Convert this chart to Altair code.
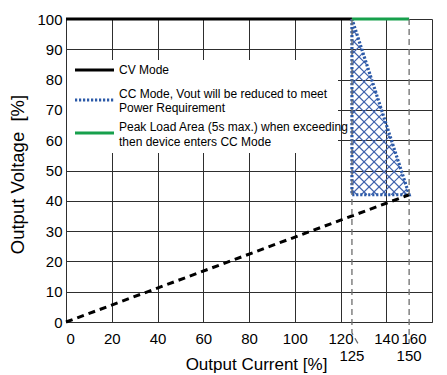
import altair as alt
import pandas as pd

# ---------------- data ----------------
x_ticks = [0, 20, 40, 60, 80, 100, 120, 140, 160]
y_ticks = [0, 10, 20, 30, 40, 50, 60, 70, 80, 90, 100]

modes = ["CV Mode", "CC Mode", "Peak Load"]
legend_lines = [
    ["CV Mode"],
    ["CC Mode, Vout will be reduced to meet", " Power Requirement"],
    ["Peak Load Area (5s max.) when exceeding", "then device enters CC Mode"],
]
mode_colors = ["#000000", "#2c5aa8", "#17a04c"]
mode_dashes = [[1, 0], [2.2, 1.8], [1, 0]]

cv_current = [0, 125]
cv_voltage = [100, 100]
cc_current = [125, 125, 150, 125]
cc_voltage = [100, 42, 42, 100]
peak_current = [125, 150]
peak_voltage = [100, 100]

load_current = [0, 150]
load_voltage = [0, 42]

marker_125_current = [125, 125, 128]
marker_125_voltage = [100, -3.6, -7.6]
marker_150_current = [150, 150]
marker_150_voltage = [100, -7]
marker_labels = ["125", "150"]
marker_label_current = [125, 150]

# ---------------- layout (pixels, relative to plot area) ----------------
W, H = 366, 303
X_MAX, Y_MAX = 160.0, 100.0
legend_box = (1, 41, 272, 134)
legend_symbol_x = (9, 48)
legend_symbol_y = [51, 81, 114]
legend_text_x = 53
legend_text_y = [[51], [75, 88.5], [108, 123]]


def to_px(x, y):
    return x / X_MAX * W, (Y_MAX - y) / Y_MAX * H


def to_data(px, py):
    return px / W * X_MAX, Y_MAX - py / H * Y_MAX


# cross-hatch of the CC triangle, derived from its vertices
tri = [to_px(x, y) for x, y in zip(cc_current[:3], cc_voltage[:3])]
hatch_rows = []
step = 10.0
for s in (1, -1):
    vals = [p[0] + s * p[1] for p in tri]
    c = min(vals) + step / 2
    while c < max(vals):
        pts = []
        for i in range(3):
            P, Q = tri[i], tri[(i + 1) % 3]
            fP = P[0] + s * P[1] - c
            fQ = Q[0] + s * Q[1] - c
            if (fP <= 0 <= fQ or fQ <= 0 <= fP) and fP != fQ:
                t = fP / (fP - fQ)
                pts.append((P[0] + t * (Q[0] - P[0]), P[1] + t * (Q[1] - P[1])))
        if len(pts) >= 2:
            pts.sort()
            a, b = pts[0], pts[-1]
            ax, ay = to_data(*a)
            bx, by = to_data(*b)
            hatch_rows.append({"x": ax, "y": ay, "x2": bx, "y2": by})
        c += step
hatch_df = pd.DataFrame(hatch_rows)

rows = []
for m, xs, ys in [(modes[0], cv_current, cv_voltage),
                  (modes[1], cc_current, cc_voltage),
                  (modes[2], peak_current, peak_voltage)]:
    for i, (x, y) in enumerate(zip(xs, ys)):
        rows.append({"current": x, "voltage": y, "mode": m, "ord": i})
mode_df = pd.DataFrame(rows)

load_df = pd.DataFrame({"current": load_current, "voltage": load_voltage})
marker_df = pd.DataFrame(
    [{"current": x, "voltage": y, "m": "125", "ord": i}
     for i, (x, y) in enumerate(zip(marker_125_current, marker_125_voltage))]
    + [{"current": x, "voltage": y, "m": "150", "ord": i}
       for i, (x, y) in enumerate(zip(marker_150_current, marker_150_voltage))]
)
label_df = pd.DataFrame({"current": marker_label_current, "label": marker_labels,
                         "dx": [8, 2]})

leg_sym_df = pd.DataFrame({
    "mode": modes,
    "x": [legend_symbol_x[0]] * 3, "x2": [legend_symbol_x[1]] * 3,
    "y": legend_symbol_y,
})
leg_txt_df = pd.DataFrame([
    {"text": t, "x": legend_text_x, "y": y}
    for lines, ys in zip(legend_lines, legend_text_y)
    for t, y in zip(lines, ys)
])

FONT = "Liberation Sans"
GRID = "#2e2e2e"

xscale = alt.Scale(domain=[0, 160], nice=False)
yscale = alt.Scale(domain=[0, 100], nice=False)

x_axis = alt.Axis(values=x_ticks, grid=True, gridColor=GRID, gridOpacity=1,
                  domainColor=GRID, ticks=False, labelFontSize=15,
                  labelPadding=9, labelColor="#000", labelFont=FONT,
                  labelOffset=alt.condition("datum.value == 160",
                                            alt.value(-6), alt.value(0)),
                  title="Output Current [%]", titleFontSize=17,
                  titleFontWeight="normal", titleFont=FONT, titleColor="#000",
                  titlePadding=10, titleX=190)
y_axis = alt.Axis(values=y_ticks, grid=True, gridColor=GRID, gridOpacity=1,
                  domainColor=GRID, ticks=False, labelFontSize=15,
                  labelPadding=4, labelColor="#000", labelFont=FONT,
                  title="Output Voltage\u00a0\u00a0[%]", titleFontSize=18.5,
                  titleFontWeight="normal", titleFont=FONT, titleColor="#000",
                  titlePadding=9, titleY=155)


def X(field):
    return alt.X(field, scale=xscale, axis=x_axis)


def Y(field):
    return alt.Y(field, scale=yscale, axis=y_axis)


hatch = alt.Chart(hatch_df).mark_rule(color="#3f62ad", strokeWidth=1.1).encode(
    x=X("x:Q"), y=Y("y:Q"), x2="x2:Q", y2="y2:Q",
)

lines = alt.Chart(mode_df).mark_line(strokeWidth=3.2, strokeCap="butt").encode(
    x=X("current:Q"), y=Y("voltage:Q"),
    color=alt.Color("mode:N", scale=alt.Scale(domain=modes, range=mode_colors),
                    legend=None),
    strokeDash=alt.StrokeDash("mode:N",
                              scale=alt.Scale(domain=modes, range=mode_dashes),
                              legend=None),
    detail="mode:N",
    order="ord:Q",
)

load = alt.Chart(load_df).mark_line(color="#000", strokeWidth=3,
                                    strokeDash=[7, 5]).encode(
    x=X("current:Q"), y=Y("voltage:Q"),
)

markers = alt.Chart(marker_df).mark_line(color="#6e6e6e", strokeWidth=1.3,
                                         strokeDash=[6, 4]).encode(
    x=X("current:Q"), y=Y("voltage:Q"),
    detail="m:N", order="ord:Q",
)

labels = alt.Chart(label_df).mark_text(fontSize=15, font=FONT, color="#000",
                                       baseline="middle", dy=34).encode(
    x=X("current:Q"),
    y=alt.value(H),
    text="label:N",
    xOffset="dx:Q",
)

# manual legend
leg_box = alt.Chart(leg_sym_df).mark_rect(color="white").encode(
    x=alt.value(legend_box[0]), x2=alt.value(legend_box[2]),
    y=alt.value(legend_box[1]), y2=alt.value(legend_box[3]),
)
leg_sym = alt.Chart(leg_sym_df).mark_rule(strokeWidth=3.2, strokeCap="butt").encode(
    x=alt.X("x:Q", scale=None), x2="x2:Q",
    y=alt.Y("y:Q", scale=None),
    color=alt.Color("mode:N", scale=alt.Scale(domain=modes, range=mode_colors),
                    legend=None),
    strokeDash=alt.StrokeDash("mode:N",
                              scale=alt.Scale(domain=modes, range=mode_dashes),
                              legend=None),
)
leg_txt = alt.Chart(leg_txt_df).mark_text(
    fontSize=12, font=FONT, color="#000", align="left", baseline="middle"
).encode(
    x=alt.X("x:Q", scale=None),
    y=alt.Y("y:Q", scale=None),
    text="text:N",
)

chart = alt.layer(hatch, lines, load, markers, labels,
                  leg_box, leg_sym, leg_txt).properties(
    width=W, height=H,
    autosize=alt.AutoSizeParams(type="none"),
    padding={"left": 58, "top": 11, "right": 7, "bottom": 52},
).configure_view(stroke=None)

chart.save("out.html", embed_options={"renderer": "svg", "actions": False})
